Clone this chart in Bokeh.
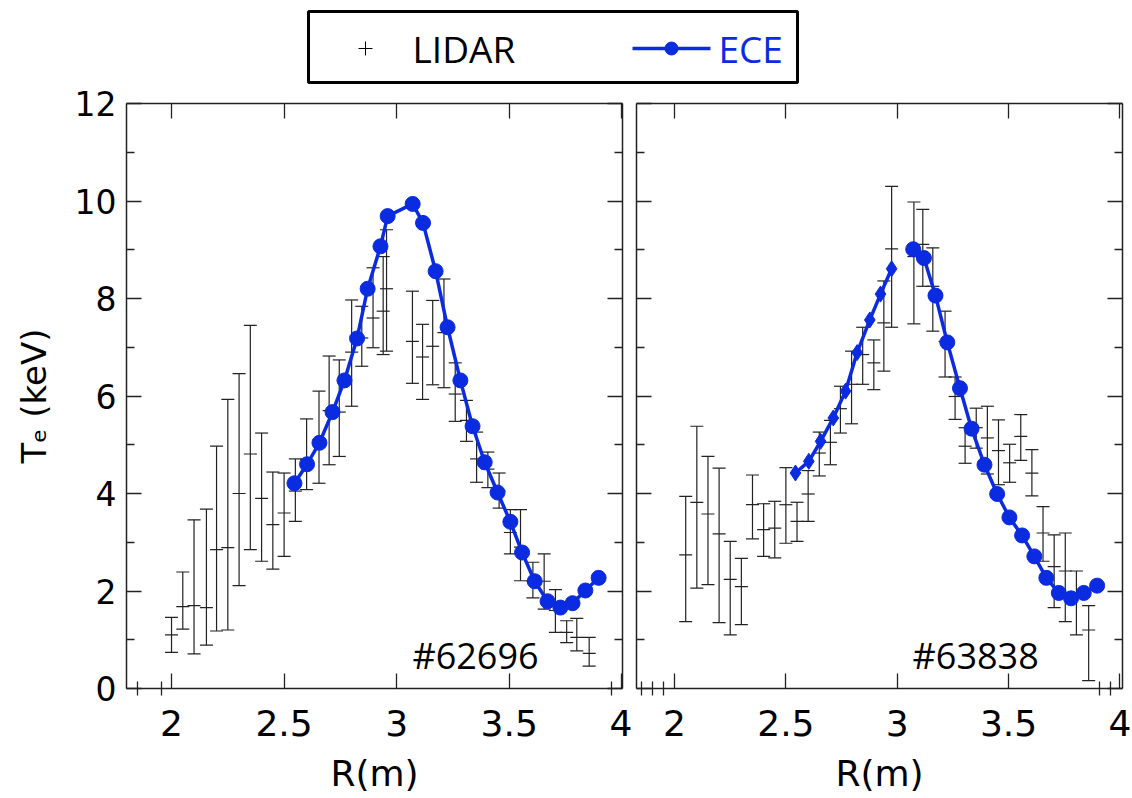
from bokeh.plotting import figure
from bokeh.layouts import column, row
from bokeh.models import Range1d, FixedTicker, LinearAxis, Label, CustomJSTickFormatter
from bokeh.core.properties import value
from bokeh.embed import file_html
from bokeh.resources import INLINE

# ---------------- data ----------------
# shot #62696 : LIDAR profile (R, Te, lower, upper)
lidar1_r = [2.00, 2.05, 2.10, 2.155, 2.20, 2.25, 2.30, 2.35, 2.40, 2.45, 2.50, 2.55, 2.60,
            2.655, 2.70, 2.745, 2.80, 2.845, 2.895, 2.94, 2.955, 3.07, 3.115, 3.16, 3.21,
            3.26, 3.31, 3.355, 3.405, 3.455, 3.505, 3.55, 3.605, 3.655, 3.705, 3.755, 3.80, 3.855]
lidar1_te = [1.10, 1.68, 1.70, 1.66, 2.85, 2.89, 4.00, 4.81, 3.90, 3.36, 3.60, 4.05, 4.70,
             5.10, 5.70, 5.67, 6.90, 7.19, 7.60, 7.74, 8.20, 7.12, 6.80, 7.02, 7.30,
             6.04, 5.50, 4.71, 4.50, 4.05, 3.20, 2.90, 2.20, 2.20, 1.60, 1.15, 1.05, 0.72]
lidar1_lo = [0.74, 1.22, 0.71, 0.89, 1.18, 1.20, 2.11, 2.85, 2.61, 2.45, 2.71, 3.43, 4.08,
             4.21, 4.59, 4.76, 5.79, 6.61, 6.99, 6.85, 6.92, 6.26, 5.93, 6.23, 6.17,
             5.48, 5.07, 4.23, 4.12, 3.70, 2.76, 2.21, 1.86, 1.63, 1.15, 0.94, 0.77, 0.46]
lidar1_hi = [1.46, 2.39, 3.46, 3.68, 4.97, 5.93, 6.46, 7.45, 5.24, 4.44, 4.42, 4.71, 5.53,
             6.10, 6.82, 6.74, 7.97, 7.84, 8.63, 8.86, 9.41, 8.15, 7.47, 7.96, 8.40,
             6.68, 5.91, 5.26, 4.85, 4.42, 3.67, 3.67, 2.59, 2.76, 2.03, 1.39, 1.44, 1.05]
# shot #62696 : ECE
ece1_r = [2.546, 2.602, 2.657, 2.715, 2.768, 2.824, 2.871, 2.928, 2.960, 3.071, 3.117, 3.173,
          3.226, 3.283, 3.337, 3.391, 3.448, 3.505, 3.557, 3.613, 3.670, 3.727, 3.781, 3.838, 3.897]
ece1_te = [4.21, 4.60, 5.04, 5.67, 6.32, 7.18, 8.20, 9.07, 9.69, 9.94, 9.55, 8.56,
           7.41, 6.32, 5.38, 4.64, 4.02, 3.42, 2.79, 2.20, 1.79, 1.66, 1.75, 2.01, 2.27]

# shot #63838 : LIDAR profile
lidar2_r = [2.05, 2.10, 2.15, 2.20, 2.25, 2.30, 2.35, 2.40, 2.45, 2.50, 2.55, 2.60, 2.65,
            2.70, 2.745, 2.795, 2.845, 2.895, 2.94, 2.975, 3.075, 3.115, 3.16, 3.215, 3.26,
            3.305, 3.355, 3.405, 3.455, 3.505, 3.555, 3.605, 3.655, 3.705, 3.755, 3.805, 3.86]
lidar2_te = [2.74, 3.82, 3.58, 3.17, 2.24, 2.09, 3.77, 3.26, 3.29, 3.77, 3.43, 3.99, 4.83,
             5.05, 5.74, 6.24, 6.85, 6.68, 7.50, 9.02, 8.86, 9.11, 8.25, 7.12, 5.99,
             4.97, 5.35, 5.14, 4.88, 4.63, 5.17, 4.42, 3.19, 2.50, 2.41, 1.91, 1.20]
lidar2_lo = [1.37, 2.06, 2.13, 1.35, 1.10, 1.31, 3.07, 2.71, 2.68, 2.98, 3.02, 3.43, 4.36,
             4.59, 5.24, 5.43, 6.24, 6.13, 6.51, 7.41, 7.48, 8.25, 7.33, 6.39, 5.52,
             4.62, 4.93, 4.40, 4.18, 4.23, 4.68, 3.95, 2.61, 1.66, 1.37, 1.10, 0.16]
lidar2_hi = [3.94, 5.38, 4.76, 4.52, 3.02, 2.67, 4.38, 3.79, 3.84, 4.53, 3.82, 4.47, 5.26,
             5.50, 6.20, 6.92, 7.41, 7.15, 8.36, 10.30, 9.98, 9.83, 9.04, 7.74, 6.39,
             5.35, 5.75, 5.79, 5.51, 5.01, 5.62, 4.90, 3.73, 3.15, 3.19, 2.41, 1.70]
# shot #63838 : ECE (inner channels shown as diamonds, outer as circles)
ece2a_r = [2.543, 2.603, 2.656, 2.713, 2.768, 2.820, 2.877, 2.925, 2.975]
ece2a_te = [4.42, 4.66, 5.07, 5.55, 6.10, 6.89, 7.56, 8.09, 8.61]
ece2b_r = [3.072, 3.120, 3.172, 3.225, 3.282, 3.334, 3.392, 3.449, 3.504, 3.561,
           3.616, 3.670, 3.726, 3.781, 3.838, 3.898]
ece2b_te = [9.01, 8.83, 8.06, 7.10, 6.16, 5.33, 4.59, 3.99, 3.51, 3.14,
            2.71, 2.27, 1.96, 1.85, 1.96, 2.11]

y_ticks = [0, 2, 4, 6, 8, 10, 12]
y_minor = [1, 3, 5, 7, 9, 11]
x_ticks = [2.0, 2.5, 3.0, 3.5, 4.0]
x_tick_labels = ["2", "2.5", "3", "3.5", "4"]
x_minor_1 = [1.848, 1.954, 3.952]
x_minor_2 = [1.852, 1.903, 1.949, 3.908, 3.958]
shots = ["#62696", "#63838"]

BLUE = "#0a2be0"
INK = "#222222"
TICK_FONT = "DejaVu Sans"
LEG_H = 84


def axis_style(ax, labels):
    ax.axis_line_color = INK
    ax.axis_line_width = 1.5
    ax.major_tick_line_color = INK
    ax.minor_tick_line_color = INK
    ax.major_tick_line_width = 1.3
    ax.minor_tick_line_width = 1.3
    ax.major_tick_out = 0
    ax.minor_tick_out = 0
    ax.major_label_text_font = TICK_FONT
    ax.major_label_text_color = "black"
    ax.axis_label_text_color = "black"
    if not labels:
        ax.formatter = CustomJSTickFormatter(code="return '';")
        ax.major_label_standoff = 0
        ax.major_label_text_font_size = "8px"


def make_panel(x_start, x_end, frame_w, bl, br, x_minor, left_labels):
    p = figure(frame_width=frame_w, frame_height=585,
               x_range=Range1d(x_start, x_end), y_range=Range1d(0, 12),
               output_backend="svg", toolbar_location=None,
               min_border_left=bl, min_border_right=br,
               min_border_top=103 - LEG_H, min_border_bottom=110,
               x_axis_location=None, y_axis_location=None)
    p.outline_line_color = None
    p.background_fill_color = "white"
    p.border_fill_color = "white"
    p.xgrid.visible = False
    p.ygrid.visible = False

    # left
    la = LinearAxis(ticker=FixedTicker(ticks=y_ticks, minor_ticks=y_minor))
    axis_style(la, left_labels)
    la.major_tick_in = 15
    la.minor_tick_in = 8
    if left_labels:
        la.major_label_text_font_size = "33px"
        la.major_label_standoff = 10
        la.axis_label = "T\u2091 (keV)"
        la.axis_label_text_font = TICK_FONT
        la.axis_label_text_font_size = "34px"
        la.axis_label_text_font_style = "normal"
        la.axis_label_standoff = 18
    p.add_layout(la, "left")
    # right
    ra = LinearAxis(ticker=FixedTicker(ticks=y_ticks, minor_ticks=y_minor))
    axis_style(ra, False)
    ra.major_tick_in = 15
    ra.minor_tick_in = 8
    p.add_layout(ra, "right")
    # top
    ta = LinearAxis(ticker=FixedTicker(ticks=x_ticks, minor_ticks=[]))
    axis_style(ta, False)
    ta.major_tick_in = 15
    p.add_layout(ta, "above")
    # bottom
    ba = LinearAxis(ticker=FixedTicker(ticks=x_ticks, minor_ticks=x_minor))
    axis_style(ba, True)
    ba.major_tick_in = 15
    ba.minor_tick_in = 7
    ba.minor_tick_out = 7
    ba.major_label_overrides = {t: s for t, s in zip(x_ticks, x_tick_labels)}
    ba.major_label_text_font_size = "36px"
    ba.major_label_standoff = 14
    ba.axis_label = "R(m)"
    ba.axis_label_text_font = TICK_FONT
    ba.axis_label_text_font_size = "36px"
    ba.axis_label_text_font_style = "normal"
    ba.axis_label_standoff = 14
    p.add_layout(ba, "below")
    return p


def draw_lidar(p, r, te, lo, hi):
    p.segment(x0=r, y0=lo, x1=r, y1=hi, line_color=INK, line_width=1.2)
    for ys in (lo, hi, te):
        p.scatter(r, ys, marker="dash", size=13, line_color=INK, line_width=1.2)


# ---------------- panel 1 ----------------
p1 = make_panel(1.80, 4.003, 496, 126, 10, x_minor_1, True)
draw_lidar(p1, lidar1_r, lidar1_te, lidar1_lo, lidar1_hi)
p1.line(ece1_r, ece1_te, line_color=BLUE, line_width=3.5)
p1.scatter(ece1_r, ece1_te, marker="circle", size=15, fill_color=BLUE, line_color=BLUE)
p1.add_layout(Label(x=3.07, y=0.68, text=shots[0], text_font="Open Sans",
                    text_font_size="36px", text_color="black", text_baseline="middle"))

# ---------------- panel 2 ----------------
p2 = make_panel(1.829, 4.012, 486, 4, 10, x_minor_2, False)
draw_lidar(p2, lidar2_r, lidar2_te, lidar2_lo, lidar2_hi)
p2.line(ece2a_r, ece2a_te, line_color=BLUE, line_width=3.5)
p2.scatter(ece2a_r, ece2a_te, marker="diamond", size=16, fill_color=BLUE, line_color=BLUE)
p2.line(ece2b_r, ece2b_te, line_color=BLUE, line_width=3.5)
p2.scatter(ece2b_r, ece2b_te, marker="circle", size=15, fill_color=BLUE, line_color=BLUE)
p2.add_layout(Label(x=3.069, y=0.68, text=shots[1], text_font="Open Sans",
                    text_font_size="36px", text_color="black", text_baseline="middle"))

# ---------------- legend strip ----------------
lg = figure(width=1132, height=LEG_H, x_range=Range1d(0, 1132), y_range=Range1d(LEG_H, 0),
            output_backend="svg", toolbar_location=None, min_border=0,
            x_axis_location=None, y_axis_location=None)
lg.outline_line_color = None
lg.background_fill_color = "white"
lg.border_fill_color = "white"
lg.xgrid.visible = False
lg.ygrid.visible = False
lg.quad(left=[308], right=[797], top=[11], bottom=[82], fill_color=None,
        line_color="black", line_width=3)
lg.scatter([365], [48], marker="cross", size=14, line_color="black", line_width=1)
lg.text([412], [48], text=["LIDAR"], text_font=value("Open Sans"), text_font_size="37px",
        text_color="black", text_baseline="middle")
lg.line([632, 710], [48, 48], line_color=BLUE, line_width=3.5)
lg.scatter([671], [48], marker="circle", size=13, fill_color=BLUE, line_color=BLUE)
lg.text([718], [48], text=["ECE"], text_font=value("Open Sans"), text_font_size="37px",
        text_color=BLUE, text_baseline="middle")

layout = column(lg, row(p1, p2, spacing=0), spacing=0)

open("out.html", "w").write(file_html(layout, INLINE))
